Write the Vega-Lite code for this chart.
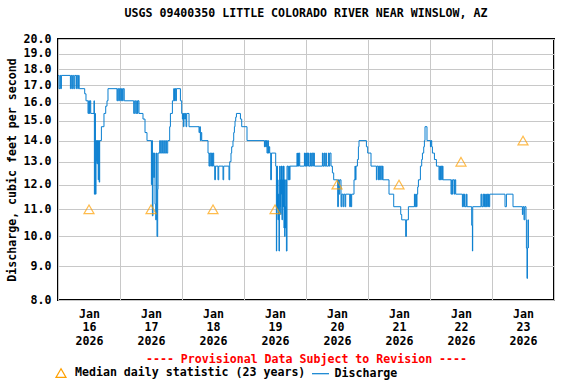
{
"$schema": "https://vega.github.io/schema/vega-lite/v6.json",
"width": 496, "height": 261,
"autosize": "none",
"padding": {"left": 58, "top": 39, "right": 22, "bottom": 84},
"background": "white",
"title": {"text": "USGS 09400350 LITTLE COLORADO RIVER NEAR WINSLOW, AZ", "font": "DejaVu Sans Mono", "fontSize": 11.6, "fontWeight": "bold", "color": "black", "offset": 13, "anchor": "middle"},
"config": {"view": {"stroke": "black", "strokeWidth": 2}},
"datasets": {
"q": [
{"t":"2026-01-16T00:00","q":17.6},{"t":"2026-01-16T00:23","q":16.8},{"t":"2026-01-16T00:46","q":17.6},{"t":"2026-01-16T01:03","q":16.8},{"t":"2026-01-16T01:19","q":17.6},
{"t":"2026-01-16T04:48","q":16.8},{"t":"2026-01-16T05:07","q":17.6},{"t":"2026-01-16T05:25","q":16.8},{"t":"2026-01-16T05:41","q":17.6},{"t":"2026-01-16T06:05","q":16.8},{"t":"2026-01-16T06:28","q":17.6},{"t":"2026-01-16T07:03","q":16.8},{"t":"2026-01-16T07:14","q":17.6},{"t":"2026-01-16T07:38","q":16.8},{"t":"2026-01-16T07:54","q":17.6},{"t":"2026-01-16T08:12","q":16.8},
{"t":"2026-01-16T10:20","q":16.5},{"t":"2026-01-16T10:50","q":16.1},{"t":"2026-01-16T11:37","q":15.4},{"t":"2026-01-16T11:53","q":16.1},{"t":"2026-01-16T12:09","q":15.4},{"t":"2026-01-16T12:23","q":16.1},{"t":"2026-01-16T12:40","q":15.4},
{"t":"2026-01-16T13:56","q":16.1},{"t":"2026-01-16T14:05","q":11.6},{"t":"2026-01-16T14:19","q":15.4},{"t":"2026-01-16T14:29","q":11.6},{"t":"2026-01-16T14:43","q":13.0},{"t":"2026-01-16T14:52","q":14.0},{"t":"2026-01-16T15:06","q":12.9},{"t":"2026-01-16T15:15","q":14.0},{"t":"2026-01-16T15:34","q":12.2},{"t":"2026-01-16T15:45","q":14.0},{"t":"2026-01-16T15:57","q":12.1},{"t":"2026-01-16T16:08","q":14.0},
{"t":"2026-01-16T16:48","q":14.7},{"t":"2026-01-16T17:48","q":15.4},{"t":"2026-01-16T18:28","q":15.8},{"t":"2026-01-16T18:58","q":16.1},{"t":"2026-01-16T19:21","q":16.8},
{"t":"2026-01-16T22:50","q":16.1},{"t":"2026-01-16T23:07","q":16.8},{"t":"2026-01-16T23:30","q":16.1},{"t":"2026-01-16T23:46","q":16.8},{"t":"2026-01-17T00:16","q":16.1},{"t":"2026-01-17T00:33","q":16.8},{"t":"2026-01-17T00:56","q":16.1},{"t":"2026-01-17T01:14","q":16.8},{"t":"2026-01-17T01:38","q":16.1},
{"t":"2026-01-17T05:18","q":15.4},{"t":"2026-01-17T05:41","q":16.1},{"t":"2026-01-17T06:05","q":15.4},{"t":"2026-01-17T06:28","q":16.1},{"t":"2026-01-17T06:44","q":15.4},{"t":"2026-01-17T06:58","q":16.1},{"t":"2026-01-17T07:21","q":15.4},
{"t":"2026-01-17T08:54","q":15.1},{"t":"2026-01-17T09:41","q":14.4},{"t":"2026-01-17T10:27","q":14.0},
{"t":"2026-01-17T12:09","q":12.0},{"t":"2026-01-17T12:23","q":14.0},{"t":"2026-01-17T12:32","q":10.75},{"t":"2026-01-17T12:46","q":13.4},{"t":"2026-01-17T13:03","q":12.3},{"t":"2026-01-17T13:19","q":13.4},{"t":"2026-01-17T13:33","q":11.2},{"t":"2026-01-17T13:49","q":10.6},{"t":"2026-01-17T14:05","q":13.4},{"t":"2026-01-17T14:19","q":10.0},{"t":"2026-01-17T14:35","q":11.8},{"t":"2026-01-17T14:43","q":13.4},
{"t":"2026-01-17T15:22","q":14.0},{"t":"2026-01-17T15:38","q":13.4},{"t":"2026-01-17T16:08","q":14.0},{"t":"2026-01-17T16:25","q":13.4},{"t":"2026-01-17T16:55","q":14.0},{"t":"2026-01-17T17:11","q":13.4},{"t":"2026-01-17T17:41","q":14.0},{"t":"2026-01-17T17:58","q":13.4},
{"t":"2026-01-17T18:28","q":14.0},{"t":"2026-01-17T19:14","q":14.7},{"t":"2026-01-17T19:31","q":15.4},{"t":"2026-01-17T20:17","q":16.1},{"t":"2026-01-17T20:47","q":16.8},{"t":"2026-01-17T21:04","q":16.1},{"t":"2026-01-17T21:17","q":16.8},{"t":"2026-01-17T21:34","q":16.1},{"t":"2026-01-17T21:50","q":16.8},
{"t":"2026-01-17T23:23","q":16.1},{"t":"2026-01-17T23:53","q":15.4},{"t":"2026-01-18T00:09","q":15.1},{"t":"2026-01-18T00:23","q":15.4},{"t":"2026-01-18T00:32","q":14.7},{"t":"2026-01-18T00:46","q":15.4},{"t":"2026-01-18T01:03","q":15.1},{"t":"2026-01-18T01:19","q":15.4},{"t":"2026-01-18T01:33","q":14.7},{"t":"2026-01-18T01:49","q":15.4},
{"t":"2026-01-18T02:43","q":14.7},{"t":"2026-01-18T06:35","q":14.4},{"t":"2026-01-18T06:51","q":14.7},{"t":"2026-01-18T07:07","q":14.0},{"t":"2026-01-18T07:21","q":14.4},{"t":"2026-01-18T07:38","q":14.0},
{"t":"2026-01-18T10:04","q":13.4},{"t":"2026-01-18T10:27","q":12.8},{"t":"2026-01-18T10:43","q":13.4},{"t":"2026-01-18T11:07","q":12.8},{"t":"2026-01-18T11:23","q":13.4},{"t":"2026-01-18T11:46","q":12.8},{"t":"2026-01-18T12:00","q":13.4},{"t":"2026-01-18T12:16","q":12.8},
{"t":"2026-01-18T12:40","q":12.2},{"t":"2026-01-18T12:56","q":12.8},{"t":"2026-01-18T13:56","q":12.2},{"t":"2026-01-18T14:13","q":12.8},{"t":"2026-01-18T15:52","q":12.2},{"t":"2026-01-18T16:08","q":12.8},{"t":"2026-01-18T18:11","q":12.2},
{"t":"2026-01-18T18:28","q":13.0},{"t":"2026-01-18T18:58","q":13.4},{"t":"2026-01-18T19:14","q":13.7},{"t":"2026-01-18T19:44","q":14.0},{"t":"2026-01-18T20:01","q":14.4},{"t":"2026-01-18T20:17","q":14.7},{"t":"2026-01-18T20:31","q":15.0},{"t":"2026-01-18T20:47","q":15.2},{"t":"2026-01-18T21:04","q":15.4},
{"t":"2026-01-18T22:37","q":15.1},{"t":"2026-01-18T23:07","q":14.7},{"t":"2026-01-19T01:10","q":14.0},
{"t":"2026-01-19T07:54","q":13.7},{"t":"2026-01-19T08:08","q":14.0},{"t":"2026-01-19T08:24","q":13.7},{"t":"2026-01-19T08:40","q":14.0},{"t":"2026-01-19T08:54","q":13.4},{"t":"2026-01-19T09:11","q":14.0},{"t":"2026-01-19T09:27","q":13.4},{"t":"2026-01-19T09:41","q":13.7},{"t":"2026-01-19T09:57","q":13.4},{"t":"2026-01-19T10:20","q":12.2},{"t":"2026-01-19T10:37","q":13.4},
{"t":"2026-01-19T12:16","q":12.8},{"t":"2026-01-19T12:32","q":9.5},{"t":"2026-01-19T12:40","q":11.1},{"t":"2026-01-19T12:46","q":12.8},{"t":"2026-01-19T12:56","q":11.0},{"t":"2026-01-19T13:03","q":12.2},{"t":"2026-01-19T13:10","q":10.6},{"t":"2026-01-19T13:19","q":11.6},{"t":"2026-01-19T13:33","q":9.5},{"t":"2026-01-19T13:42","q":11.1},
{"t":"2026-01-19T13:49","q":12.8},{"t":"2026-01-19T13:56","q":11.1},{"t":"2026-01-19T14:05","q":12.2},{"t":"2026-01-19T14:12","q":10.8},{"t":"2026-01-19T14:19","q":12.8},{"t":"2026-01-19T14:29","q":11.6},{"t":"2026-01-19T14:35","q":12.8},{"t":"2026-01-19T14:43","q":10.6},{"t":"2026-01-19T14:52","q":12.2},{"t":"2026-01-19T14:59","q":11.1},
{"t":"2026-01-19T15:06","q":12.8},{"t":"2026-01-19T15:15","q":11.1},{"t":"2026-01-19T15:22","q":12.8},{"t":"2026-01-19T15:29","q":10.3},{"t":"2026-01-19T15:38","q":12.2},{"t":"2026-01-19T15:45","q":10.0},{"t":"2026-01-19T15:52","q":11.1},{"t":"2026-01-19T16:02","q":10.3},{"t":"2026-01-19T16:08","q":12.2},{"t":"2026-01-19T16:25","q":9.5},
{"t":"2026-01-19T16:39","q":12.8},{"t":"2026-01-19T17:02","q":12.2},{"t":"2026-01-19T17:18","q":12.8},{"t":"2026-01-19T17:35","q":12.2},{"t":"2026-01-19T17:49","q":12.8},
{"t":"2026-01-19T20:31","q":13.4},{"t":"2026-01-19T20:40","q":12.8},{"t":"2026-01-19T20:54","q":13.4},{"t":"2026-01-19T21:04","q":12.8},{"t":"2026-01-19T21:17","q":13.4},{"t":"2026-01-19T21:34","q":12.8},
{"t":"2026-01-19T23:23","q":13.4},{"t":"2026-01-19T23:37","q":12.8},{"t":"2026-01-19T23:53","q":13.4},{"t":"2026-01-20T00:09","q":12.8},{"t":"2026-01-20T00:23","q":13.4},{"t":"2026-01-20T00:40","q":12.8},{"t":"2026-01-20T00:56","q":13.4},{"t":"2026-01-20T01:10","q":12.8},
{"t":"2026-01-20T01:42","q":13.4},{"t":"2026-01-20T01:56","q":12.8},{"t":"2026-01-20T02:13","q":13.4},{"t":"2026-01-20T02:35","q":12.8},{"t":"2026-01-20T02:52","q":13.4},{"t":"2026-01-20T03:15","q":12.8},
{"t":"2026-01-20T06:21","q":13.4},{"t":"2026-01-20T06:35","q":12.8},{"t":"2026-01-20T06:58","q":13.4},{"t":"2026-01-20T07:14","q":12.8},{"t":"2026-01-20T07:38","q":13.4},{"t":"2026-01-20T07:54","q":12.8},{"t":"2026-01-20T08:40","q":13.4},{"t":"2026-01-20T08:54","q":12.8},{"t":"2026-01-20T09:11","q":13.4},{"t":"2026-01-20T09:41","q":12.8},
{"t":"2026-01-20T10:13","q":12.5},{"t":"2026-01-20T10:43","q":12.2},{"t":"2026-01-20T12:16","q":11.1},{"t":"2026-01-20T12:32","q":12.2},{"t":"2026-01-20T12:47","q":11.6},{"t":"2026-01-20T13:03","q":12.2},{"t":"2026-01-20T13:33","q":11.1},{"t":"2026-01-20T13:49","q":11.6},
{"t":"2026-01-20T14:19","q":11.1},{"t":"2026-01-20T14:36","q":11.6},{"t":"2026-01-20T15:06","q":11.1},{"t":"2026-01-20T15:22","q":11.6},{"t":"2026-01-20T16:55","q":11.1},{"t":"2026-01-20T17:11","q":11.6},{"t":"2026-01-20T17:25","q":11.1},{"t":"2026-01-20T17:41","q":11.6},
{"t":"2026-01-20T18:35","q":12.2},{"t":"2026-01-20T18:58","q":12.8},{"t":"2026-01-20T19:07","q":12.2},{"t":"2026-01-20T19:22","q":12.8},{"t":"2026-01-20T19:54","q":13.1},{"t":"2026-01-20T20:17","q":13.7},{"t":"2026-01-20T20:31","q":14.0},
{"t":"2026-01-20T23:23","q":13.7},{"t":"2026-01-20T23:53","q":13.4},{"t":"2026-01-21T01:10","q":12.8},
{"t":"2026-01-21T03:15","q":12.2},{"t":"2026-01-21T03:29","q":12.8},{"t":"2026-01-21T04:02","q":12.2},{"t":"2026-01-21T04:16","q":12.8},{"t":"2026-01-21T04:32","q":12.2},{"t":"2026-01-21T04:48","q":12.8},{"t":"2026-01-21T05:18","q":12.2},{"t":"2026-01-21T05:34","q":12.8},{"t":"2026-01-21T05:49","q":12.2},
{"t":"2026-01-21T08:08","q":11.6},{"t":"2026-01-21T09:57","q":11.1},{"t":"2026-01-21T12:40","q":10.8},{"t":"2026-01-21T13:03","q":10.6},{"t":"2026-01-21T14:35","q":10.0},{"t":"2026-01-21T14:52","q":10.6},{"t":"2026-01-21T15:38","q":11.1},
{"t":"2026-01-21T17:58","q":11.6},{"t":"2026-01-21T18:11","q":11.1},{"t":"2026-01-21T18:28","q":11.6},{"t":"2026-01-21T18:44","q":11.1},{"t":"2026-01-21T18:58","q":11.6},{"t":"2026-01-21T19:14","q":11.9},{"t":"2026-01-21T19:31","q":12.2},{"t":"2026-01-21T20:17","q":12.8},{"t":"2026-01-21T20:47","q":13.1},{"t":"2026-01-21T21:04","q":13.4},{"t":"2026-01-21T21:34","q":13.7},{"t":"2026-01-21T21:50","q":14.0},{"t":"2026-01-21T22:04","q":14.7},{"t":"2026-01-21T22:50","q":14.0},
{"t":"2026-01-22T00:10","q":13.7},{"t":"2026-01-22T00:23","q":14.0},{"t":"2026-01-22T00:40","q":13.7},{"t":"2026-01-22T00:56","q":13.4},{"t":"2026-01-22T01:43","q":13.1},{"t":"2026-01-22T02:29","q":12.8},
{"t":"2026-01-22T03:29","q":12.2},{"t":"2026-01-22T03:46","q":12.8},{"t":"2026-01-22T04:02","q":12.2},{"t":"2026-01-22T04:16","q":12.8},{"t":"2026-01-22T04:32","q":12.2},{"t":"2026-01-22T04:48","q":12.8},{"t":"2026-01-22T05:02","q":12.2},
{"t":"2026-01-22T08:08","q":11.6},{"t":"2026-01-22T08:24","q":12.2},{"t":"2026-01-22T08:40","q":11.6},{"t":"2026-01-22T08:54","q":12.2},{"t":"2026-01-22T09:27","q":11.6},{"t":"2026-01-22T09:41","q":12.2},{"t":"2026-01-22T09:57","q":11.6},
{"t":"2026-01-22T12:32","q":11.1},{"t":"2026-01-22T12:47","q":11.6},{"t":"2026-01-22T13:03","q":11.1},{"t":"2026-01-22T13:19","q":11.6},{"t":"2026-01-22T13:33","q":11.1},{"t":"2026-01-22T14:05","q":11.6},{"t":"2026-01-22T14:20","q":11.1},
{"t":"2026-01-22T16:08","q":10.4},{"t":"2026-01-22T16:25","q":9.5},{"t":"2026-01-22T16:32","q":11.1},
{"t":"2026-01-22T19:44","q":11.6},{"t":"2026-01-22T20:01","q":11.1},{"t":"2026-01-22T20:31","q":11.6},{"t":"2026-01-22T20:47","q":11.1},{"t":"2026-01-22T21:04","q":11.6},{"t":"2026-01-22T21:17","q":11.1},{"t":"2026-01-22T21:34","q":11.6},{"t":"2026-01-22T21:50","q":11.1},{"t":"2026-01-22T22:04","q":11.6},{"t":"2026-01-22T22:20","q":11.1},{"t":"2026-01-22T22:37","q":11.6},{"t":"2026-01-22T22:50","q":11.1},{"t":"2026-01-22T23:07","q":11.6},
{"t":"2026-01-23T05:02","q":11.1},{"t":"2026-01-23T05:35","q":11.6},{"t":"2026-01-23T08:08","q":11.1},
{"t":"2026-01-23T11:46","q":10.8},{"t":"2026-01-23T12:00","q":11.1},{"t":"2026-01-23T12:23","q":10.6},{"t":"2026-01-23T12:40","q":11.1},{"t":"2026-01-23T13:10","q":10.6},{"t":"2026-01-23T13:19","q":9.6},{"t":"2026-01-23T13:33","q":8.63},{"t":"2026-01-23T13:43","q":9.6},{"t":"2026-01-23T13:56","q":10.6},{"t":"2026-01-23T14:05","q":9.6}
],
"med": [
{"t":"2026-01-16T12:00","q":11.0},{"t":"2026-01-17T12:00","q":11.0},{"t":"2026-01-18T12:00","q":11.0},{"t":"2026-01-19T12:00","q":11.0},
{"t":"2026-01-20T12:00","q":12.0},{"t":"2026-01-21T12:00","q":12.0},{"t":"2026-01-22T12:00","q":13.0},{"t":"2026-01-23T12:00","q":14.0}
]
},
"encoding": {
"x": {"field": "t", "type": "temporal",
 "scale": {"domain": [{"year": 2026, "month": 1, "date": 16}, {"year": 2026, "month": 1, "date": 24}]},
 "axis": {
  "values": [{"year": 2026, "month": 1, "date": 16}, {"year": 2026, "month": 1, "date": 17}, {"year": 2026, "month": 1, "date": 18}, {"year": 2026, "month": 1, "date": 19}, {"year": 2026, "month": 1, "date": 20}, {"year": 2026, "month": 1, "date": 21}, {"year": 2026, "month": 1, "date": 22}, {"year": 2026, "month": 1, "date": 23}, {"year": 2026, "month": 1, "date": 24}],
  "labelExpr": "date(datum.value) == 24 ? '' : ['Jan', timeFormat(datum.value, '%d'), '2026']",
  "labelOffset": 31, "labelFlush": false, "labelOverlap": false, "labelBound": false,
  "ticks": false, "domain": false, "grid": true, "gridColor": "#c8c8c8", "gridWidth": 1,
  "labelFont": "DejaVu Sans Mono", "labelFontWeight": "bold", "labelFontSize": 11.6, "labelColor": "black", "labelLineHeight": 13.5, "labelPadding": 8,
  "title": "---- Provisional Data Subject to Revision ----", "titleColor": "#ff0000", "titleFont": "DejaVu Sans Mono", "titleFontWeight": "bold", "titleFontSize": 11.6, "titlePadding": 7
 }},
"y": {"field": "q", "type": "quantitative",
 "scale": {"type": "log", "domain": [8, 20], "nice": false, "zero": false},
 "axis": {
  "values": [8, 9, 10, 11, 12, 13, 14, 15, 16, 17, 18, 19, 20], "format": ".1f",
  "ticks": false, "domain": false, "grid": true, "gridColor": "#c8c8c8", "gridWidth": 1,
  "labelFont": "DejaVu Sans Mono", "labelFontWeight": "bold", "labelFontSize": 11.6, "labelColor": "black", "labelPadding": 7,
  "title": "Discharge, cubic feet per second", "titleColor": "black", "titleFont": "DejaVu Sans Mono", "titleFontWeight": "bold", "titleFontSize": 11.6, "titlePadding": 6
 }}
},
"layer": [
{"data": {"name": "q"},
 "mark": {"type": "line", "interpolate": "step-after", "strokeWidth": 1},
 "encoding": {
  "color": {"datum": "Discharge",
   "scale": {"domain": ["Median daily statistic (23 years)", "Discharge"], "range": ["#ffa000", "#0a7fd0"]},
   "legend": {"orient": "none", "legendX": -3, "legendY": 328, "direction": "horizontal", "title": null, "labelLimit": 400,
    "labelFont": "DejaVu Sans Mono", "labelFontWeight": "bold", "labelFontSize": 11.6, "labelColor": "black", "labelOffset": 8, "columnPadding": 3.5,
    "symbolStrokeWidth": 1.2, "symbolSize": 100,
    "encode": {"symbols": {"update": {"size": {"signal": "datum.value === 'Discharge' ? 289 : 100"}}}}}}
 }},
{"data": {"name": "med"},
 "mark": {"type": "point", "shape": "triangle-up", "filled": false, "size": 100, "strokeWidth": 1.2},
 "encoding": {
  "color": {"datum": "Median daily statistic (23 years)"},
  "shape": {"datum": "Median daily statistic (23 years)",
   "scale": {"domain": ["Median daily statistic (23 years)", "Discharge"], "range": ["triangle-up", "stroke"]},
   "legend": {"orient": "none", "legendX": -3, "legendY": 328, "direction": "horizontal", "title": null, "labelLimit": 400,
    "labelFont": "DejaVu Sans Mono", "labelFontWeight": "bold", "labelFontSize": 11.6, "labelColor": "black", "labelOffset": 8, "columnPadding": 3.5,
    "symbolStrokeWidth": 1.2, "symbolSize": 100,
    "encode": {"symbols": {"update": {"size": {"signal": "datum.value === 'Discharge' ? 289 : 100"}}}}}}
 }}
]
}
